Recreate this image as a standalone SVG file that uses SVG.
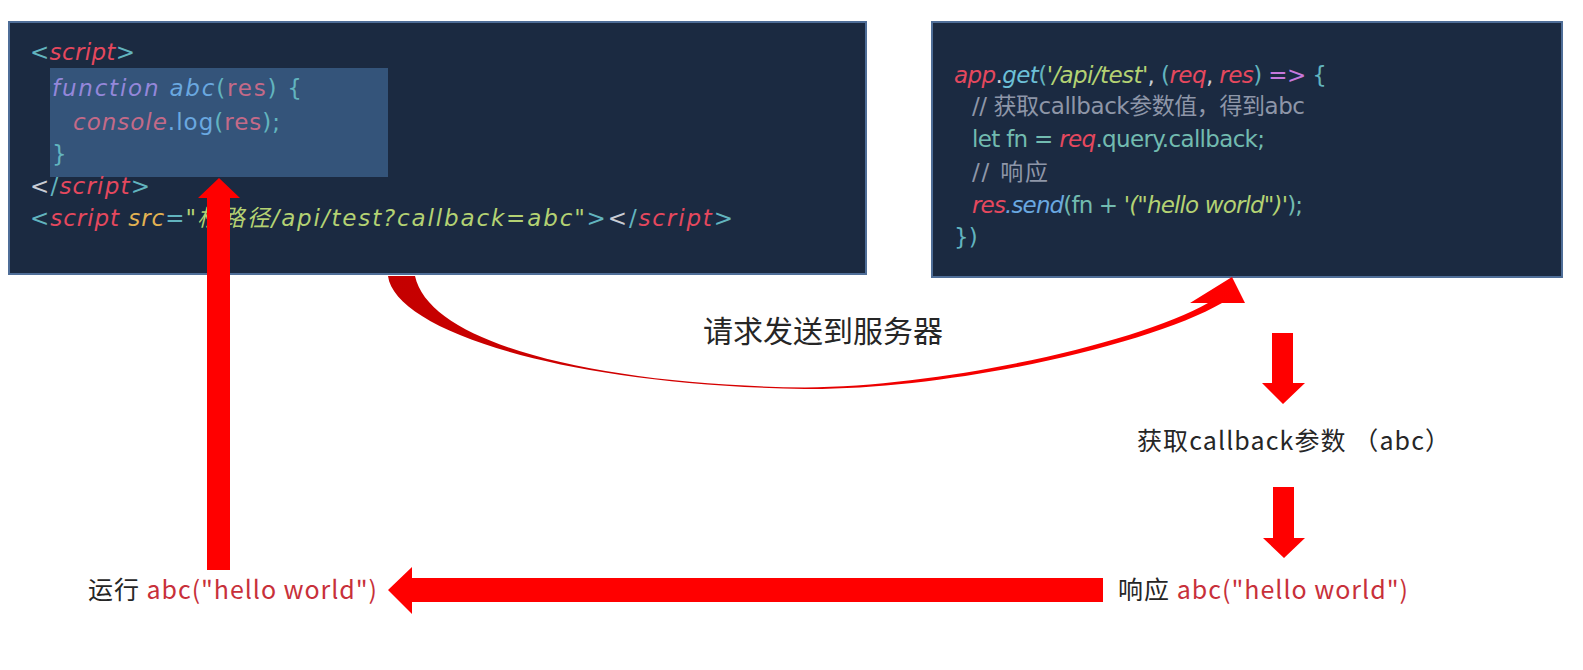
<svg xmlns="http://www.w3.org/2000/svg" width="1583" height="670" viewBox="0 0 1583 670">
<defs>
<style>
.box{fill:#1b2a41;stroke:#4f6e98;stroke-width:2}
.code{font-family:"DejaVu Sans","Noto Sans CJK SC",sans-serif;font-size:23px}
.lbl{font-family:"Noto Sans CJK SC","Liberation Sans",sans-serif;font-size:25px;fill:#262626}
.big{font-size:30px}
.hl{fill:#c8303a}
.p{fill:#62b4bf}
.r{fill:#e5485e;font-style:italic}
.f{fill:#9487da;font-style:italic}
.b{fill:#6aa8e0}
.m{fill:#c46a88}
.o{fill:#e2b252;font-style:italic}
.g{fill:#b4d273;font-style:italic}
.c{fill:#8e96a8}
.k{fill:#c678dd}
.cy{fill:#6cc0d8}
.t{fill:#72bbb0}
.w{fill:#c8ccd4}
.arrow{fill:#ff0000}
</style>
<linearGradient id="curveGrad" x1="388" y1="0" x2="1245" y2="0" gradientUnits="userSpaceOnUse">
<stop offset="0" stop-color="#c40000"/>
<stop offset="0.45" stop-color="#d80000"/>
<stop offset="0.6" stop-color="#f20000"/>
<stop offset="1" stop-color="#ff0000"/>
</linearGradient>
</defs>
<rect width="1583" height="670" fill="#ffffff"/>

<g id="node-client">
<rect class="box" x="9" y="22" width="857" height="252"/>
<rect x="50" y="68" width="338" height="109" fill="#34547a"/>
<text class="code" x="30" y="60" textLength="105" lengthAdjust="spacing"><tspan class="p">&lt;</tspan><tspan class="r">script</tspan><tspan class="p">&gt;</tspan></text>
<text class="code" x="52" y="96" textLength="250" lengthAdjust="spacing"><tspan class="f">function</tspan> <tspan class="b" font-style="italic">abc</tspan><tspan class="p">(</tspan><tspan class="m">res</tspan><tspan class="p">)</tspan> <tspan class="p">{</tspan></text>
<text class="code" x="73" y="130" textLength="207" lengthAdjust="spacing"><tspan class="m" font-style="italic">console</tspan><tspan class="b">.log</tspan><tspan class="p">(</tspan><tspan class="m">res</tspan><tspan class="p">);</tspan></text>
<text class="code p" x="52" y="162">}</text>
<text class="code" x="30" y="194" textLength="120" lengthAdjust="spacing"><tspan class="w">&lt;</tspan><tspan class="p">/</tspan><tspan class="r">script</tspan><tspan class="p">&gt;</tspan></text>
<text class="code" x="30" y="226" textLength="166" lengthAdjust="spacing"><tspan class="p">&lt;</tspan><tspan class="r">script</tspan> <tspan class="o">src</tspan><tspan class="p">=</tspan><tspan class="g">"</tspan></text>
<text class="code" x="197" y="226" textLength="536" lengthAdjust="spacing"><tspan class="g">根路径/api/test?callback=abc"</tspan><tspan class="p">&gt;</tspan><tspan class="w">&lt;</tspan><tspan class="p">/</tspan><tspan class="r">script</tspan><tspan class="p">&gt;</tspan></text>
</g>

<g id="node-server">
<rect class="box" x="932" y="22" width="630" height="255"/>
<text class="code" x="954" y="83" textLength="373" lengthAdjust="spacing"><tspan class="r">app</tspan><tspan class="w">.</tspan><tspan class="cy" font-style="italic">get</tspan><tspan class="p">(</tspan><tspan class="g">'/api/test'</tspan><tspan class="w">, </tspan><tspan class="p">(</tspan><tspan class="r">req</tspan><tspan class="w">, </tspan><tspan class="r">res</tspan><tspan class="p">)</tspan> <tspan class="k">=&gt;</tspan> <tspan class="p">{</tspan></text>
<text class="code c" x="972" y="114" textLength="333" lengthAdjust="spacing">// 获取callback参数值，得到abc</text>
<text class="code" x="972" y="147" textLength="293" lengthAdjust="spacing"><tspan class="t">let fn = </tspan><tspan class="r">req</tspan><tspan class="t">.query.callback;</tspan></text>
<text class="code c" x="972" y="180" textLength="76" lengthAdjust="spacing">// 响应</text>
<text class="code" x="972" y="213" textLength="331" lengthAdjust="spacing"><tspan class="r">res</tspan><tspan class="b" font-style="italic">.send</tspan><tspan class="t">(fn + </tspan><tspan class="g">'("hello world")'</tspan><tspan class="t">);</tspan></text>
<text class="code p" x="954" y="245">})</text>
</g>

<g id="node-request-label">
<text class="lbl big" x="703" y="342" textLength="240" lengthAdjust="spacing">请求发送到服务器</text>
</g>

<g id="node-get-callback">
<text class="lbl" x="1137" y="450" textLength="313" lengthAdjust="spacing">获取callback参数 （abc）</text>
</g>

<g id="node-response">
<text class="lbl" x="1118" y="599" textLength="290" lengthAdjust="spacing">响应 <tspan class="hl">abc("hello world")</tspan></text>
</g>

<g id="node-run">
<text class="lbl" x="88" y="599" textLength="289" lengthAdjust="spacing">运行 <tspan class="hl">abc("hello world")</tspan></text>
</g>

<g id="connectors">
<path id="edge-request" fill="url(#curveGrad)" d="M388,276 C395,330 560,385 805,389 C950,390 1150,345 1222,303 L1245,303 L1232,277 L1190,303 L1208,303 C1140,342 950,386 805,387.5 C600,385 430,345 415,276 Z"/>
<polygon id="edge-get" class="arrow" points="1272,333 1293,333 1293,383 1305,383 1283,404 1262,383 1272,383"/>
<polygon id="edge-respond" class="arrow" points="1273,487 1294,487 1294,538 1305,538 1284,558 1263,538 1273,538"/>
<polygon id="edge-return" class="arrow" points="1103,578 1103,602 412,602 412,614 388,590 412,567 412,578"/>
<polygon id="edge-run" class="arrow" points="207,570 230,570 230,198 240,198 219,178 198,198 207,198"/>
</g>
</svg>
